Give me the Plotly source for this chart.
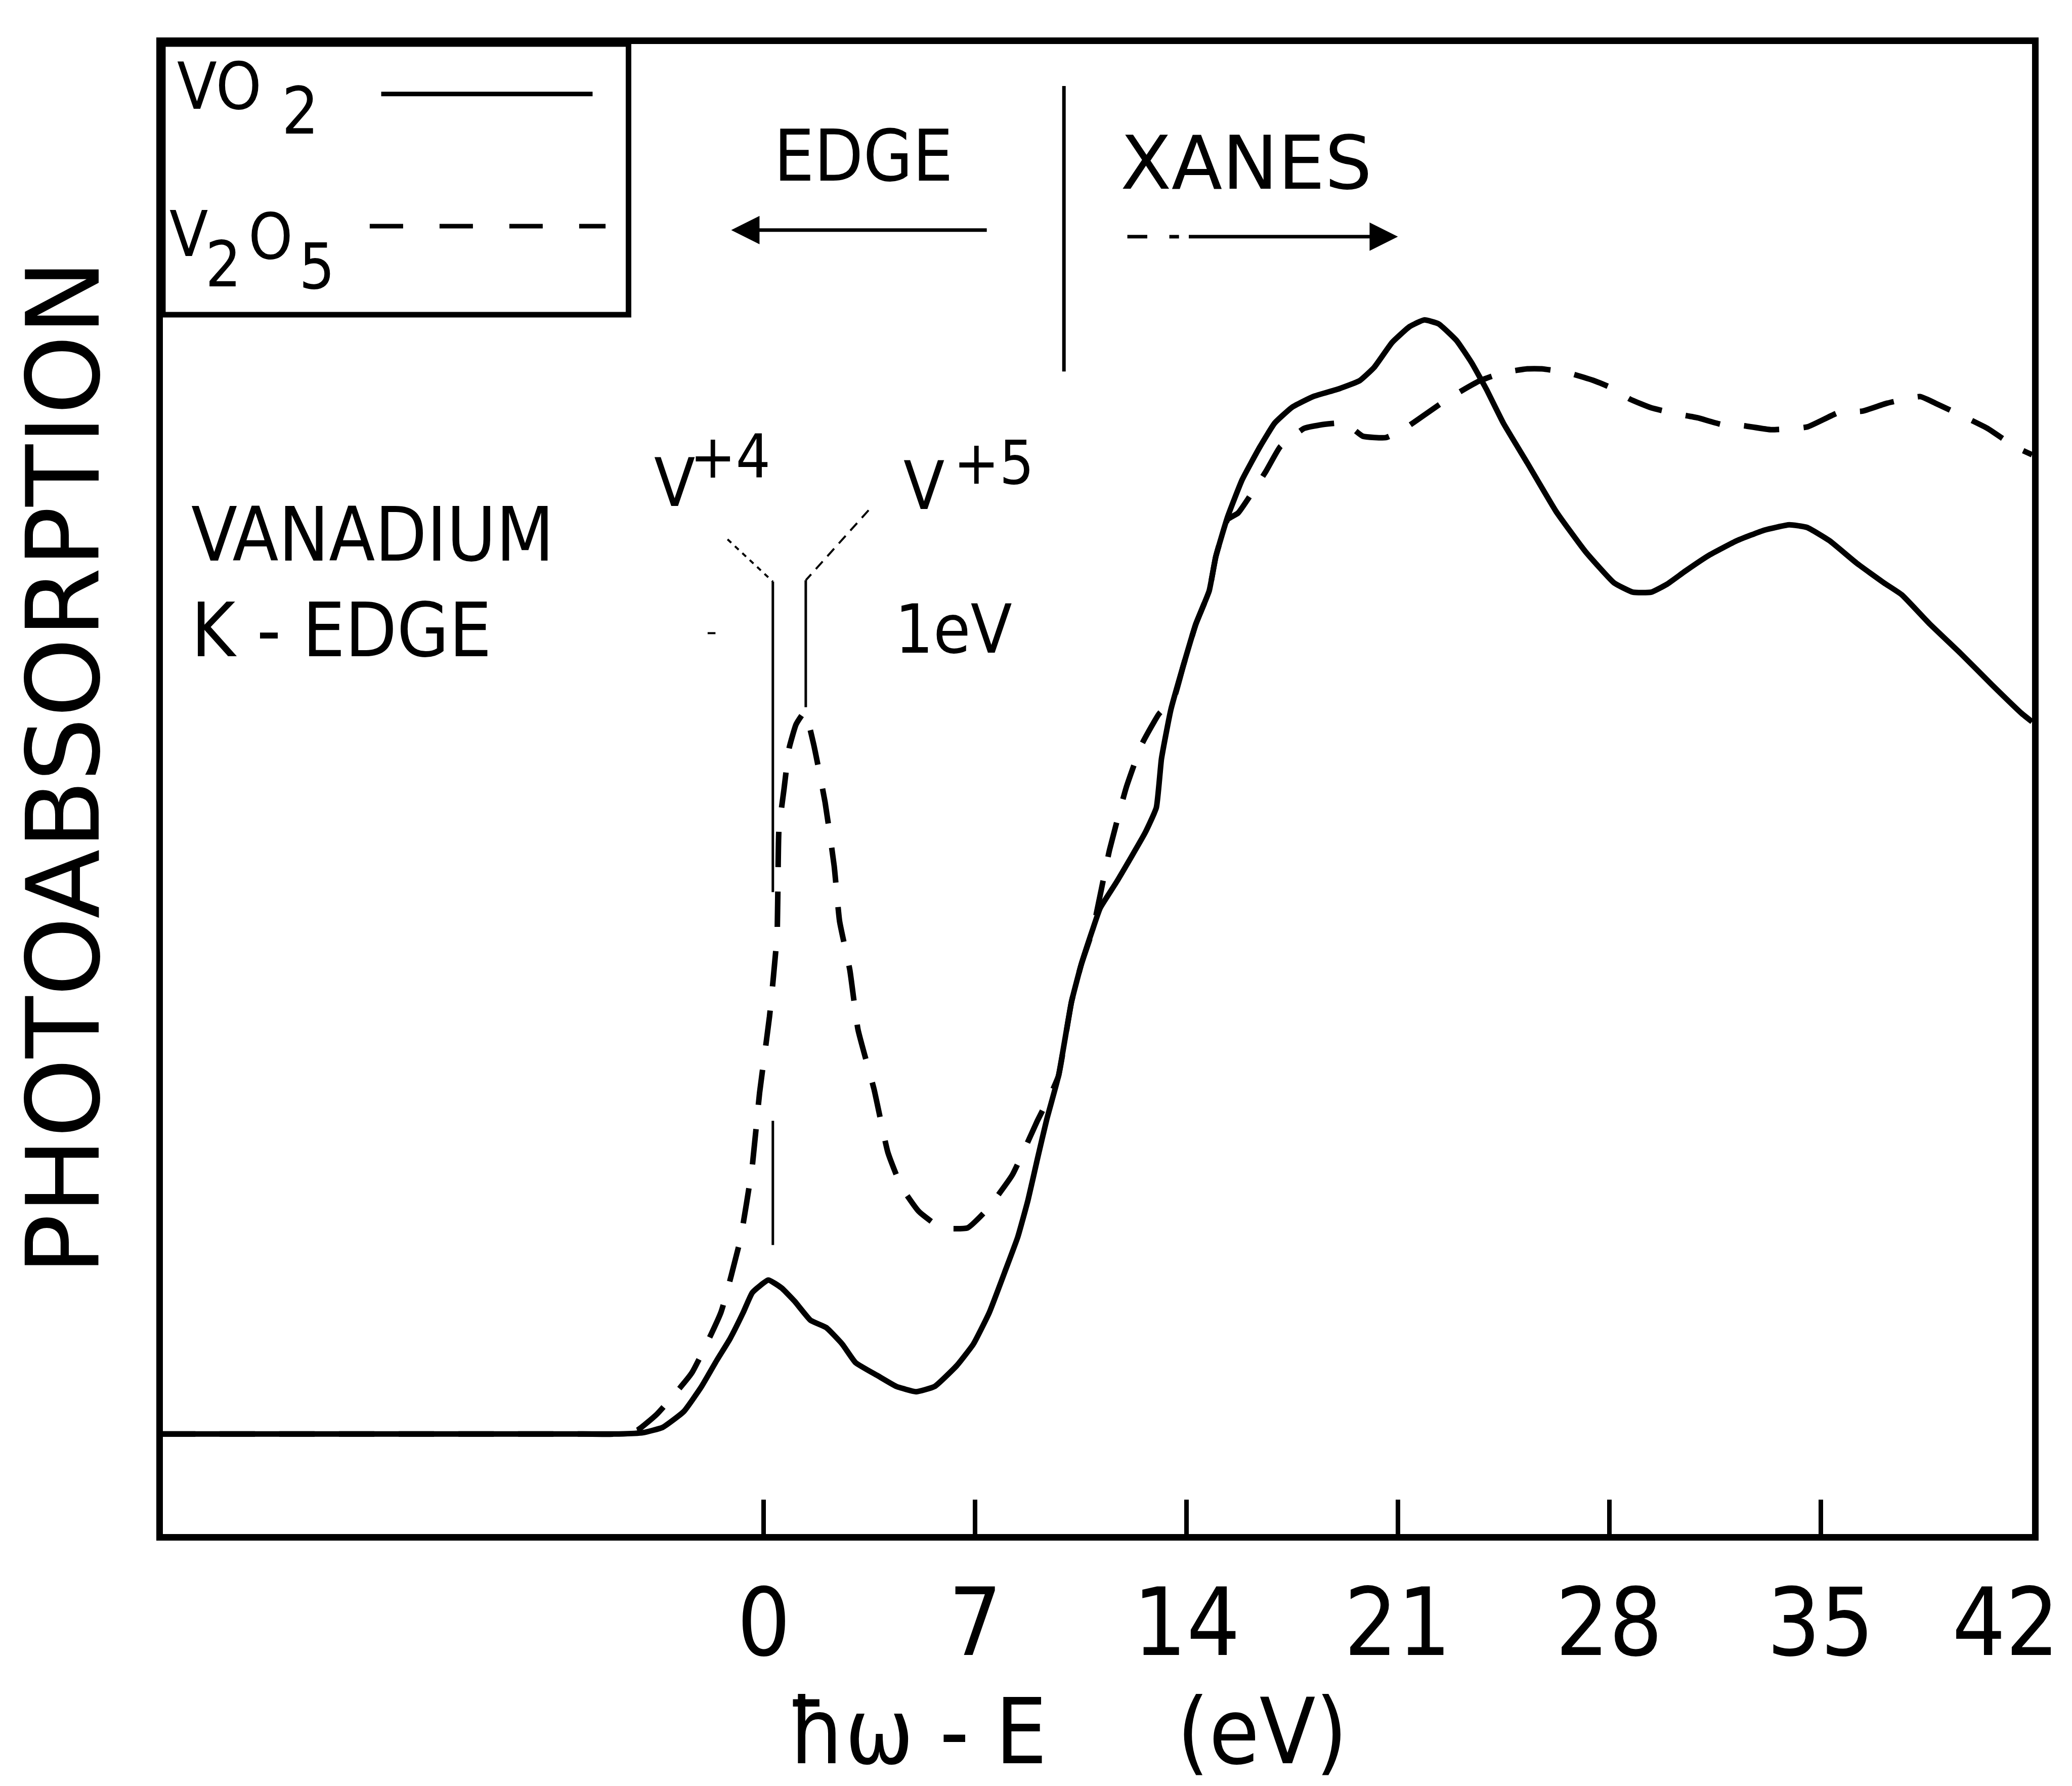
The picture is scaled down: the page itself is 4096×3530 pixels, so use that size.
import plotly.graph_objects as go

# ---------------- data ----------------
energy_vo2 = [-20.0, -6.0, -4.8, -4.0, -3.35, -2.65, -2.06, -1.55, -1.12, -0.68, -0.38,
              0.15, 0.59, 1.02, 1.55, 2.07, 2.6, 3.04, 3.78, 4.39, 5.04,
              5.66, 6.4, 6.94, 7.47, 8.02, 8.41, 8.75, 9.06, 9.37, 9.76,
              10.19, 10.51, 10.88, 11.14, 11.69, 12.63, 13.0, 13.17, 13.48, 13.9,
              14.31, 14.75, 14.97, 15.36, 15.84, 16.43, 16.92, 17.5, 18.19, 19.06,
              19.73, 20.21, 20.81, 21.39, 21.87, 22.35, 22.94, 23.43, 23.92, 24.49,
              25.28, 26.24, 27.2, 28.16, 28.78, 29.39, 29.91, 30.52, 31.31, 32.23,
              33.14, 33.96, 34.55, 35.29, 36.19, 37.1, 37.69, 38.61, 39.62, 40.67,
              41.67, 42.0]
absorb_vo2 = [7.8, 7.8, 7.8, 7.9, 8.3, 9.5, 11.4, 13.4, 15.0, 17.0, 18.5,
              19.45, 18.85, 17.85, 16.4, 15.85, 14.6, 13.2, 12.2, 11.4, 11.0,
              11.4, 13.0, 14.6, 17.0, 20.3, 22.7, 25.5, 28.6, 31.6, 34.9,
              40.5, 43.3, 45.9, 47.6, 49.6, 53.3, 55.2, 58.9, 62.6, 66.0,
              69.1, 71.6, 74.2, 77.2, 80.0, 82.5, 84.3, 85.5, 86.3, 86.9,
              87.5, 88.5, 90.4, 91.6, 92.1, 91.8, 90.55, 88.9, 86.9, 84.3,
              81.3, 77.6, 74.6, 72.2, 71.5, 71.5, 72.1, 73.1, 74.3, 75.4,
              76.2, 76.6, 76.4, 75.4, 73.7, 72.2, 71.3, 69.1, 66.9, 64.5,
              62.3, 61.7]

energy_v2o5 = [-20.0, -6.0, -4.8, -4.18, -3.54, -2.39, -1.42, -0.77, -0.38, -0.14, 0.19,
               0.44, 0.5, 0.67, 0.84, 1.07, 1.36, 1.65, 2.03, 2.33, 2.51,
               2.85, 3.12, 3.65, 4.11, 4.56, 5.13, 5.87, 6.75, 7.4, 8.23,
               9.06, 9.5, 9.76, 10.19, 10.51, 10.9, 11.45, 12.0, 12.52, 13.09,
               13.57, 13.9, 14.31, 14.75, 14.97, 15.36, 15.71, 16.63, 17.1, 17.9,
               18.55, 19.25, 19.84, 20.6, 21.17, 21.87, 22.57, 23.23, 23.71, 24.45,
               25.28, 25.76, 26.63, 27.5, 28.03, 28.69, 29.39, 30.22, 30.92, 31.71,
               32.45, 33.35, 34.55, 35.6, 36.38, 37.2, 38.3, 38.8, 39.82, 40.52,
               41.44, 42.0]
absorb_v2o5 = [7.8, 7.8, 7.8, 8.1, 9.3, 12.4, 17.0, 22.6, 28.1, 33.6, 39.4,
               45.6, 53.5, 56.6, 59.7, 61.5, 62.45, 60.0, 55.6, 50.8, 46.6,
               42.9, 38.4, 33.9, 29.1, 26.5, 24.65, 23.4, 23.4, 24.8, 27.4,
               31.5, 33.5, 34.9, 40.5, 43.3, 46.0, 52.0, 56.7, 60.0, 62.3,
               63.4, 66.0, 69.1, 71.6, 74.2, 77.0, 77.5, 80.65, 82.5, 83.9,
               84.2, 84.3, 83.3, 83.2, 83.8, 84.9, 86.0, 86.9, 87.5, 88.1,
               88.4, 88.4, 88.1, 87.5, 87.0, 86.1, 85.45, 85.0, 84.7, 84.2,
               84.1, 83.8, 84.0, 85.1, 85.2, 85.8, 86.3, 85.8, 84.7, 83.9,
               82.5, 81.9]

tick_values = [0, 7, 14, 21, 28, 35, 42]
tick_labels = ["0", "7", "14", "21", "28", "35", "42"]

x_range = [-19.9, 42.0]
y_range = [0.23, 112.98]

# ---------------- styling ----------------
W, H = 4096, 3530
NARROW = "DejaVu Sans Condensed, DejaVu Sans, sans-serif"
WIDE = "DejaVu Sans, sans-serif"
BLACK = "black"

fig = go.Figure()
fig.add_trace(go.Scatter(x=energy_vo2, y=absorb_vo2, mode="lines", name="VO2",
                         line=dict(color=BLACK, width=11, shape="spline", smoothing=0.4)))
fig.add_trace(go.Scatter(x=energy_v2o5, y=absorb_v2o5, mode="lines", name="V2O5",
                         line=dict(color=BLACK, width=11, dash="70px,48px",
                                   shape="spline", smoothing=0.4)))

shapes = []


def seg(x0, y0, x1, y1, width, dash="solid"):
    shapes.append(dict(type="line", xref="x", yref="y", x0=x0, y0=y0, x1=x1, y1=y1,
                       line=dict(color=BLACK, width=width, dash=dash)))


# legend box and samples
shapes.append(dict(type="rect", xref="x", yref="y", x0=-19.9, x1=-4.48, y0=92.5, y1=112.98,
                   line=dict(color=BLACK, width=11)))
seg(-12.67, 109.2, -5.67, 109.2, 9)
seg(-13.05, 99.2, -5.24, 99.2, 9, "66px,72px")
# EDGE | XANES divider
seg(9.94, 88.2, 9.94, 109.8, 7)
# XANES arrow: leading dash and dot
seg(12.04, 98.4, 12.7, 98.4, 7)
seg(13.43, 98.4, 13.75, 98.4, 7)
# V+4 / V+5 marker lines
seg(0.30, 72.3, 0.30, 48.8, 5)
seg(0.30, 31.5, 0.30, 22.1, 5)
seg(1.39, 72.4, 1.39, 62.8, 5)
seg(-1.20, 75.5, 0.30, 72.3, 4, "10px,10px")
seg(3.47, 77.7, 1.39, 72.4, 4, "20px,14px")
seg(-1.86, 68.4, -1.6, 68.4, 4)

annotations = []


def txt(text, x, y, size, family=NARROW, xanchor="center", ref="x", **kw):
    annotations.append(dict(text=text, x=x, y=y, xref=ref, yref=("y" if ref == "x" else "paper"),
                            showarrow=False, xanchor=xanchor, yanchor="middle",
                            font=dict(family=family, size=size, color=BLACK), **kw))


# legend labels
txt("VO", -18.03, 109.8, 128)
txt("2", -15.35, 107.9, 128)
txt("V", -19.05, 98.6, 124)
txt("2", -17.9, 96.3, 124)
txt("O", -16.33, 98.4, 124)
txt("5", -14.8, 96.15, 124)
# region labels
txt("EDGE", 3.30, 104.5, 140)
txt("XANES", 15.97, 103.95, 147, family=WIDE)
txt("VANADIUM", -19.0, 75.85, 148, xanchor="left")
txt("K - EDGE", -19.0, 68.6, 148, xanchor="left")
txt("V", -2.95, 79.8, 132)
txt("+4", -1.12, 81.75, 120)
txt("V", 5.31, 79.55, 132)
txt("+5", 7.62, 81.3, 120)
txt("1eV", 6.29, 68.7, 133)

# tick labels placed on the x axis scale
for v, lab in zip(tick_values, tick_labels):
    annotations.append(dict(text=lab, x=v, y=-0.0593, xref="x", yref="paper",
                            showarrow=False, xanchor="center", yanchor="middle",
                            xshift=(-52 if v == tick_values[-1] else 0),
                            font=dict(family=NARROW, size=185, color=BLACK)))

# axis titles
txt("\u0127\u03c9 - E\u00a0\u00a0\u00a0\u00a0\u00a0(eV)", 0.4841, -0.1327, 180, ref="paper")
txt("PHOTOABSORPTION", -0.0532, 0.5146, 200, family=WIDE, ref="paper", textangle=-90)

# arrows
annotations.append(dict(text="", x=-1.08, y=98.9, ax=7.41, ay=98.9, xref="x", yref="y",
                        axref="x", ayref="y", showarrow=True, arrowhead=2, arrowsize=1.6,
                        arrowwidth=7, arrowcolor=BLACK))
annotations.append(dict(text="", x=21.0, y=98.4, ax=14.05, ay=98.4, xref="x", yref="y",
                        axref="x", ayref="y", showarrow=True, arrowhead=2, arrowsize=1.6,
                        arrowwidth=7, arrowcolor=BLACK))

fig.update_layout(width=W, height=H,
                  margin=dict(l=314, r=87, t=79, b=506, autoexpand=False),
                  plot_bgcolor="white", paper_bgcolor="white", showlegend=False,
                  shapes=shapes, annotations=annotations)
fig.update_xaxes(range=x_range, showline=True, linecolor=BLACK, linewidth=13, mirror=True,
                 ticks="inside", ticklen=68, tickwidth=9, tickcolor=BLACK,
                 tickvals=tick_values, showticklabels=False,
                 showgrid=False, zeroline=False)
fig.update_yaxes(range=y_range, showline=True, linecolor=BLACK, linewidth=13, mirror=True,
                 ticks="", showticklabels=False, showgrid=False, zeroline=False)

fig.write_html("out.html")
